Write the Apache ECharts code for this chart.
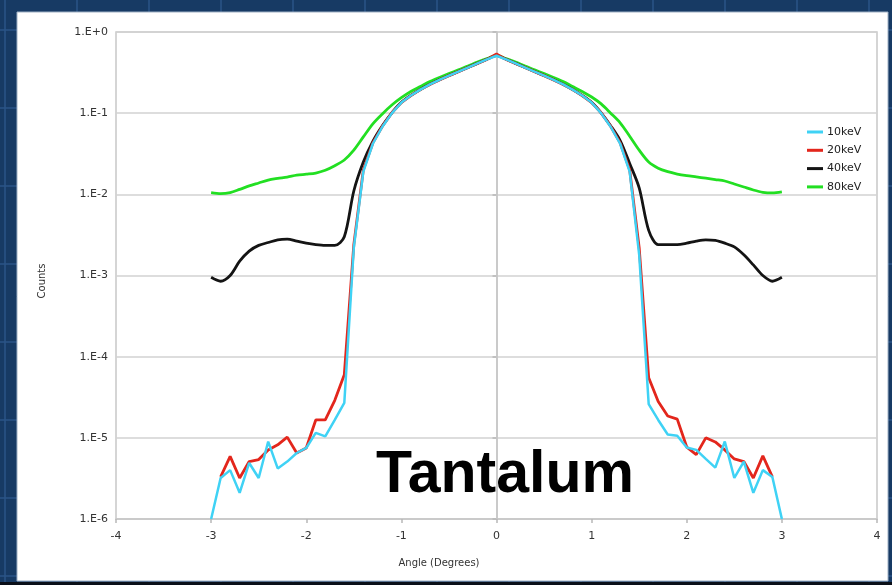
<!DOCTYPE html>
<html>
<head>
<meta charset="utf-8">
<script src="https://cdn.jsdelivr.net/npm/echarts@6/dist/echarts.min.js"></script>
<style>
  html, body { margin: 0; padding: 0; background: #173a64; }
  #chart { width: 892px; height: 585px; }
</style>
</head>
<body>
<div id="chart"></div>
<script>
// Scattering angle (degrees), 0.1 degree steps
var angles = [
  -3.0, -2.9, -2.8, -2.7, -2.6, -2.5, -2.4, -2.3, -2.2, -2.1,
  -2.0, -1.9, -1.8, -1.7, -1.6, -1.5, -1.4, -1.3, -1.2, -1.1,
  -1.0, -0.9, -0.8, -0.7, -0.6, -0.5, -0.4, -0.3, -0.2, -0.1,
   0.0,
   0.1,  0.2,  0.3,  0.4,  0.5,  0.6,  0.7,  0.8,  0.9,  1.0,
   1.1,  1.2,  1.3,  1.4,  1.5,  1.6,  1.7,  1.8,  1.9,  2.0,
   2.1,  2.2,  2.3,  2.4,  2.5,  2.6,  2.7,  2.8,  2.9,  3.0
];

// Normalised counts per beam energy
var counts10keV = [
  1.0e-6, 3.2e-6, 4.0e-6, 2.1e-6, 4.9e-6, 3.2e-6, 9.0e-6, 4.2e-6, 5.1e-6, 6.5e-6,
  7.5e-6, 1.15e-5, 1.04e-5, 1.66e-5, 2.7e-5, 2.2e-3, 0.019, 0.042, 0.068, 0.100,
  0.135, 0.165, 0.195, 0.226, 0.257, 0.290, 0.325, 0.365, 0.410, 0.460,
  0.510,
  0.460, 0.410, 0.365, 0.325, 0.290, 0.257, 0.226, 0.195, 0.165, 0.135,
  0.100, 0.068, 0.042, 0.019, 1.8e-3, 2.6e-5, 1.66e-5, 1.1e-5, 1.06e-5, 7.6e-6,
  7.1e-6, 5.5e-6, 4.3e-6, 9.0e-6, 3.2e-6, 5.1e-6, 2.1e-6, 4.0e-6, 3.3e-6, 1.0e-6
];

var counts20keV = [
  null, 3.3e-6, 5.9e-6, 3.2e-6, 5.1e-6, 5.4e-6, 7.1e-6, 8.2e-6, 1.02e-5, 6.5e-6,
  7.5e-6, 1.66e-5, 1.66e-5, 2.9e-5, 6.0e-5, 2.4e-3, 0.020, 0.043, 0.069, 0.101,
  0.135, 0.165, 0.195, 0.226, 0.257, 0.290, 0.325, 0.365, 0.410, 0.460,
  0.535,
  0.460, 0.410, 0.365, 0.325, 0.290, 0.257, 0.226, 0.195, 0.165, 0.135,
  0.101, 0.069, 0.043, 0.020, 2.2e-3, 5.5e-5, 2.8e-5, 1.86e-5, 1.7e-5, 7.7e-6,
  6.2e-6, 1.0e-5, 8.9e-6, 7.1e-6, 5.5e-6, 5.1e-6, 3.2e-6, 6.0e-6, 3.3e-6, null
];

var counts40keV = [
  9.5e-4, 8.5e-4, 1.0e-3, 1.5e-3, 2.0e-3, 2.35e-3, 2.55e-3, 2.75e-3, 2.8e-3, 2.65e-3,
  2.5e-3, 2.4e-3, 2.35e-3, 2.35e-3, 3.0e-3, 1.1e-2, 0.025, 0.045, 0.070, 0.101,
  0.136, 0.166, 0.196, 0.227, 0.258, 0.291, 0.326, 0.366, 0.411, 0.461,
  0.512,
  0.461, 0.411, 0.366, 0.326, 0.291, 0.258, 0.227, 0.196, 0.166, 0.136,
  0.101, 0.070, 0.046, 0.024, 1.2e-2, 3.6e-3, 2.4e-3, 2.4e-3, 2.4e-3, 2.5e-3,
  2.65e-3, 2.75e-3, 2.7e-3, 2.5e-3, 2.25e-3, 1.8e-3, 1.35e-3, 1.0e-3, 8.5e-4, 9.5e-4
];

var counts80keV = [
  0.0105, 0.0102, 0.0105, 0.0115, 0.0127, 0.0138, 0.0150, 0.0157, 0.0163, 0.0172,
  0.0177, 0.0183, 0.0198, 0.0225, 0.0265, 0.035, 0.051, 0.074, 0.098, 0.126,
  0.155, 0.185, 0.213, 0.245, 0.275, 0.307, 0.342, 0.380, 0.425, 0.470,
  0.515,
  0.470, 0.425, 0.380, 0.342, 0.307, 0.275, 0.245, 0.213, 0.185, 0.158,
  0.130, 0.100, 0.076, 0.052, 0.035, 0.025, 0.021, 0.019, 0.0178, 0.0170,
  0.0164, 0.0158, 0.0152, 0.0146, 0.0134, 0.0123, 0.0113, 0.0106, 0.0104, 0.0107
];

var seriesNames = ['10keV', '20keV', '40keV', '80keV'];
var seriesColors = ['#3fd2f5', '#e3261c', '#141414', '#22df22'];
var yTickLabels = ['1.E-6', '1.E-5', '1.E-4', '1.E-3', '1.E-2', '1.E-1', '1.E+0'];

function pairs(ys) {
  return angles.map(function (x, i) { return [x, ys[i]]; });
}

var chart = echarts.init(document.getElementById('chart'), null, { renderer: 'canvas' });

// Slide backdrop: navy tiles with a lighter grid, white panel on top
var backdrop = [];
for (var gx = 5; gx < 892; gx += 72) {
  backdrop.push({ type: 'line', z: -20, silent: true,
    shape: { x1: gx, y1: 0, x2: gx, y2: 585 },
    style: { stroke: '#2b5587', lineWidth: 1.5 } });
}
for (var gy = 30; gy < 585; gy += 78) {
  backdrop.push({ type: 'line', z: -20, silent: true,
    shape: { x1: 0, y1: gy, x2: 892, y2: gy },
    style: { stroke: '#2b5587', lineWidth: 1.5 } });
}
backdrop.push({ type: 'rect', z: -19, silent: true,
  shape: { x: 0, y: 582, width: 892, height: 3 }, style: { fill: '#0a0f18' } });
backdrop.push({ type: 'rect', z: -10, silent: true,
  shape: { x: 17, y: 12, width: 871, height: 569 },
  style: { fill: '#ffffff', stroke: '#9fb0c4', lineWidth: 1 } });
backdrop.push({ type: 'text', z: 50, silent: true,
  style: { x: 439, y: 563, text: 'Angle (Degrees)', fill: '#333',
    font: '10px "DejaVu Sans"', textAlign: 'center', textVerticalAlign: 'middle' } });
backdrop.push({ type: 'text', z: 50, silent: true, rotation: Math.PI / 2,
  x: 42, y: 281,
  style: { x: 0, y: 0, text: 'Counts', fill: '#333',
    font: '10px "DejaVu Sans"', textAlign: 'center', textVerticalAlign: 'middle' } });
backdrop.push({ type: 'text', z: 100, silent: true,
  style: { x: 505, y: 476, text: 'Tantalum', fill: '#000',
    font: 'bold 59px "Liberation Sans", Arial, sans-serif',
    textAlign: 'center', textVerticalAlign: 'middle' } });

var lineSeries = seriesNames.map(function (name, k) {
  var data = [counts10keV, counts20keV, counts40keV, counts80keV][k];
  var zOrder = [6, 5, 4, 3][k];
  return {
    name: name,
    type: 'line',
    data: pairs(data),
    showSymbol: false,
    symbol: 'none',
    smooth: (k >= 2) ? 0.3 : false,
    connectNulls: false,
    z: zOrder,
    lineStyle: { color: seriesColors[k], width: k === 0 ? 2.5 : 2.8 },
    itemStyle: { color: seriesColors[k] },
    emphasis: { disabled: true }
  };
});

// Vertical reference line at zero angle
lineSeries.push({
  name: 'zero',
  type: 'line',
  data: [],
  z: 1,
  markLine: {
    silent: true,
    symbol: 'none',
    label: { show: false },
    lineStyle: { color: '#c6c6c6', width: 1.5, type: 'solid' },
    data: [{ xAxis: 0 }]
  }
});

chart.setOption({
  backgroundColor: '#173a64',
  animation: false,
  graphic: backdrop,
  grid: {
    left: 116, right: 15, top: 32, bottom: 66,
    show: true, borderColor: '#c8c8c8', borderWidth: 1.5,
    backgroundColor: 'transparent'
  },
  legend: {
    data: seriesNames,
    orient: 'vertical',
    left: 802,
    top: 120,
    icon: 'rect',
    itemWidth: 16,
    itemHeight: 3,
    itemGap: 4.3,
    textStyle: { fontSize: 11, color: '#222', fontFamily: 'DejaVu Sans', lineHeight: 14, padding: [0, 0, 0, -1] }
  },
  xAxis: {
    type: 'value',
    min: -4, max: 4, interval: 1,
    axisLine: { show: true, onZero: false, lineStyle: { color: '#c8c8c8', width: 1.5 } },
    axisTick: { show: true, length: 4, lineStyle: { color: '#b8b8b8', width: 1.5 } },
    splitLine: { show: false },
    axisLabel: { fontSize: 11, color: '#333', fontFamily: 'DejaVu Sans', margin: 12 }
  },
  yAxis: {
    type: 'log',
    logBase: 10,
    min: 1e-6, max: 1,
    axisLine: { show: true, lineStyle: { color: '#c8c8c8', width: 1.5 } },
    axisTick: { show: true, length: 4, lineStyle: { color: '#b8b8b8', width: 1.5 } },
    splitLine: { show: true, lineStyle: { color: '#d2d2d2', width: 1.5 } },
    minorTick: { show: false },
    axisLabel: {
      fontSize: 11, color: '#333', fontFamily: 'DejaVu Sans', margin: 8,
      formatter: function (v) {
        var e = Math.round(Math.log10(v));
        return yTickLabels[e + 6];
      }
    }
  },
  series: lineSeries
});
</script>
</body>
</html>
